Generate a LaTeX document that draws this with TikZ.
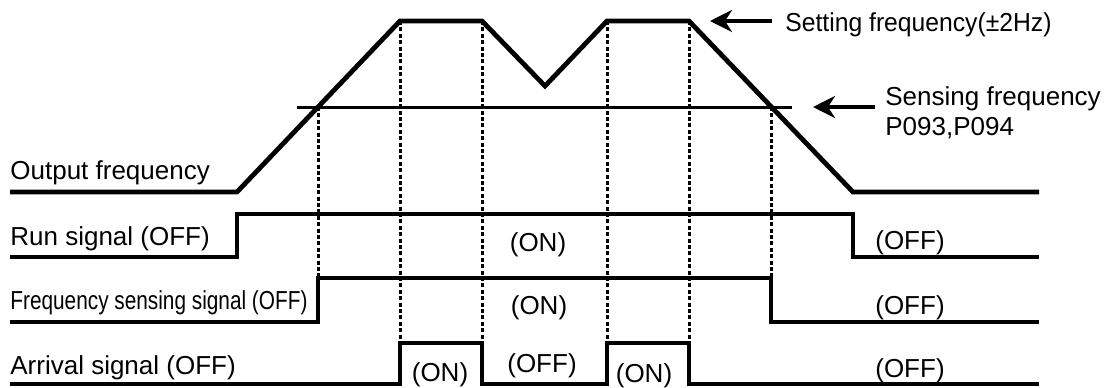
\documentclass[tikz,border=0pt]{standalone}
\usepackage{fontspec}
\setmainfont{Liberation Sans}
\usetikzlibrary{arrows.meta, positioning}

\begin{document}
\begin{tikzpicture}[
    x = 0.5pt, y = -0.5pt,
    every node/.style = {font=\fontsize{13pt}{14pt}\selectfont, inner sep=0pt},
    lbl/.style = {anchor=base west},
    state/.style = {anchor=base},
    wave/.style = {line width=2.4pt},
    level/.style = {line width=1.5pt},
    guide/.style = {line width=1.5pt, dash pattern=on 2pt off 1.2pt},
    arrow/.style = {-{Stealth[length=11pt, width=11pt, inset=3.5pt]}, line width=2pt}
  ]
    \useasboundingbox (0,0) rectangle (1110,387);

    % Timing guides
    \draw[guide] (318,107) -- (318,278);
    \draw[guide] (400,21) -- (400,343);
    \draw[guide] (482,21) -- (482,343);
    \draw[guide] (607,21) -- (607,343);
    \draw[guide] (689,21) -- (689,343);
    \draw[guide] (771,107) -- (771,278);

    % Output frequency
    \draw[level] (297,107) -- (792,107);
    \draw[wave] (10,192) -- (237,192) -- (400,21) -- (482,21) -- (545,86)
        -- (607,21) -- (689,21) -- (853,192) -- (1039,192);

    % Signals
    \draw[wave] (10,257) -- (237,257) -- (237,214) -- (853,214) -- (853,257) -- (1039,257);
    \draw[wave] (10,322) -- (318,322) -- (318,278) -- (771,278) -- (771,322) -- (1039,322);
    \draw[wave] (10,384) -- (400,384) -- (400,343) -- (482,343) -- (482,384)
        -- (607,384) -- (607,343) -- (689,343) -- (689,384) -- (1039,384);

    % Row labels
    \node[lbl] (outlbl) at (10,179) {Output frequency};
    \node[lbl] (runlbl) at (10,245) {Run signal (OFF)};
    \node[lbl] (senslbl) at (10,309) {\scalebox{0.8}[1]{Frequency sensing signal (OFF)}};
    \node[lbl] (arrlbl) at (10,374) {Arrival signal (OFF)};

    % States
    \node[state] (runon) at (538,251) {(ON)};
    \node[state] (runoff) at (910,249) {(OFF)};
    \node[state] (senson) at (539,314) {(ON)};
    \node[state] (sensoff) at (910,314) {(OFF)};
    \node[state] (arron1) at (440,381) {(ON)};
    \node[state] (arroff1) at (542,372) {(OFF)};
    \node[state] (arron2) at (644,382) {(ON)};
    \node[state] (arroff2) at (910,377) {(OFF)};

    % Callouts
    \coordinate (settip) at (710,21);
    \coordinate (settail) at (772,21);
    \coordinate (sensetip) at (813,107);
    \coordinate (sensetail) at (875,107);
    \draw[arrow] (settail) -- (settip);
    \draw[arrow] (sensetail) -- (sensetip);
    \node[lbl] (setlbl) at (785,31) {\scalebox{0.95}[1]{Setting frequency(±2Hz)}};
    \node[lbl] (sensefreq) at (885,105) {Sensing frequency};
    \node[lbl] (params) at ([yshift=-15pt]sensefreq.base west) {P093,P094};

  \end{tikzpicture}
\end{document}
